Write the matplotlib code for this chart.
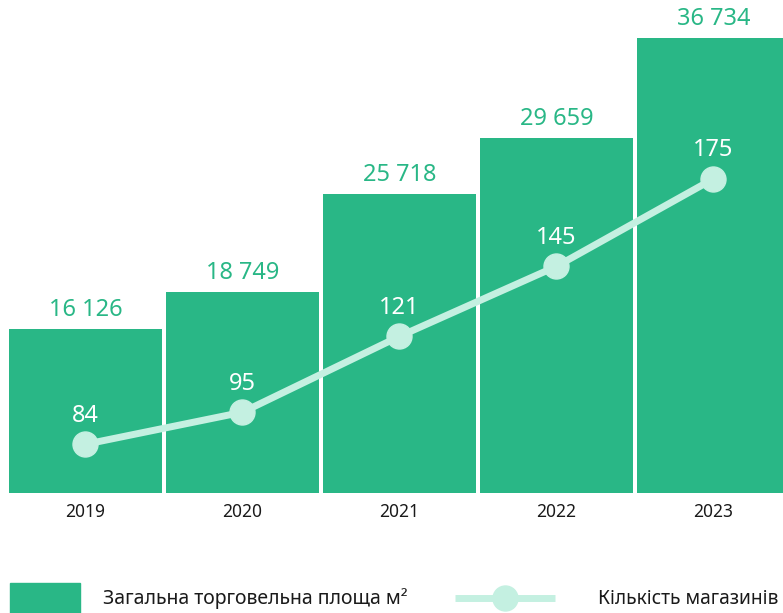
import matplotlib
matplotlib.use("Agg")
import matplotlib.pyplot as plt
from matplotlib.lines import Line2D
from matplotlib.patches import Rectangle

years = ["2019", "2020", "2021", "2022", "2023"]
area_m2 = [16126, 18749, 25718, 29659, 36734]
stores = [84, 95, 121, 145, 175]
legend_labels = ["Загальна торговельна площа м²", "Кількість магазинів"]

BAR = "#29b786"
MINT = "#c4f0e1"
FONT = ["Noto Sans", "DejaVu Sans"]
plt.rcParams["font.family"] = FONT

W, H = 783, 613
fig = plt.figure(figsize=(W / 100, H / 100), dpi=100)
ax = fig.add_axes([7 / W, (H - 493) / H, (783 - 7) / W, 493 / H])
x = list(range(len(years)))
ax.bar(x, area_m2, width=0.975, color=BAR, zorder=1)
ax.set_xlim(-0.5, 4.443)
ax.set_ylim(4547, 39422)
for s in ax.spines.values():
    s.set_visible(False)
ax.set_yticks([])
ax.set_xticks(x)
ax.set_xticklabels(years, fontsize=12.5, color="#1a1a1a")
ax.tick_params(axis="x", length=0, pad=7)

def fmt(v):
    return f"{v:,}".replace(",", " ")

for xi, v in zip(x, area_m2):
    ax.annotate(fmt(v), (xi, v), xytext=(0, 5), textcoords="offset points",
                ha="center", va="bottom", fontsize=17, color=BAR)

ax2 = ax.twinx()
ax2.set_ylim(67.3, 236.3)
ax2.set_xlim(ax.get_xlim())
ax2.axis("off")
ax2.plot(x, stores, color=MINT, lw=5, marker="o", markersize=18,
         solid_capstyle="butt", zorder=3)
for xi, c in zip(x, stores):
    ax2.annotate(str(c), (xi, c), xytext=(0, 12), textcoords="offset points",
                 ha="center", va="bottom", fontsize=17, color="white")

# legend
fig.patches.append(Rectangle((10 / W, 0), 70 / W, 30 / H, transform=fig.transFigure,
                             color=BAR))
fig.text(103 / W, (H - 599) / H, legend_labels[0], fontsize=14, color="#1a1a1a",
         ha="left", va="center")
fig.lines.append(Line2D([455 / W, 555 / W], [(H - 598) / H] * 2, transform=fig.transFigure,
                        color=MINT, lw=5, solid_capstyle="butt"))
fig.lines.append(Line2D([505 / W], [(H - 598) / H], transform=fig.transFigure,
                        color=MINT, marker="o", markersize=18, lw=0))
fig.text(598 / W, (H - 599) / H, legend_labels[1], fontsize=13.8, color="#1a1a1a",
         ha="left", va="center")

fig.savefig("out.png", dpi=100)
